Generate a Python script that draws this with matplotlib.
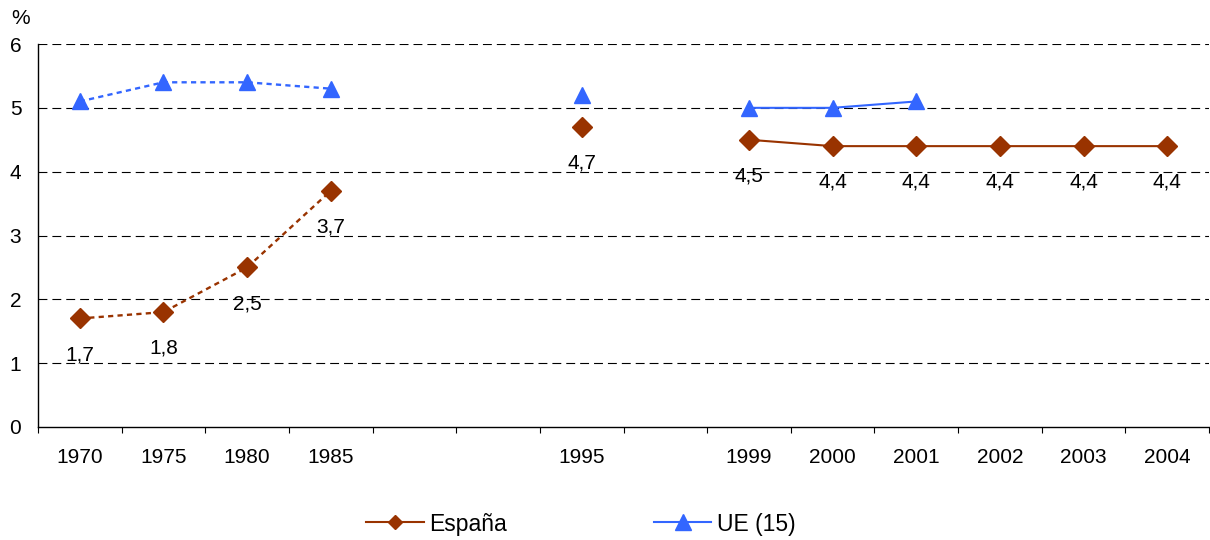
import numpy as np
import matplotlib.pyplot as plt
from matplotlib.lines import Line2D

plt.rcParams['font.family'] = ['Liberation Sans', 'DejaVu Sans']

# categories along the x axis (empty slots have no label)
years = ["1970", "1975", "1980", "1985", "", "", "1995", "", "1999",
         "2000", "2001", "2002", "2003", "2004"]
espana = [1.7, 1.8, 2.5, 3.7, np.nan, np.nan, 4.7, np.nan, 4.5,
          4.4, 4.4, 4.4, 4.4, 4.4]
ue15 = [5.1, 5.4, 5.4, 5.3, np.nan, np.nan, 5.2, np.nan, 5.0,
        5.0, 5.1, np.nan, np.nan, np.nan]

col_es = "#993300"
col_ue = "#3366FF"
fs = 15

x = np.arange(len(years))
es = np.array(espana)
ue = np.array(ue15)
early = slice(0, 4)
late = slice(8, 14)

fig = plt.figure(figsize=(12.1, 5.4), dpi=100)
ax = fig.add_axes([38 / 1210, 113 / 540, 1171 / 1210, 383 / 540])

dotted = (0, (2.2, 1.8))
# connecting lines: dotted for the early years, solid for the recent ones
ax.plot(x[early], es[early], color=col_es, lw=1.7, ls=dotted, zorder=2)
ax.plot(x[late], es[late], color=col_es, lw=1.5, zorder=2)
ax.plot(x[early], ue[early], color=col_ue, lw=1.7, ls=dotted, zorder=2)
ax.plot(x[late], ue[late], color=col_ue, lw=1.5, zorder=2)

# markers
ax.plot(x, es, ls="none", marker="D", ms=10, color=col_es, zorder=3)
ax.plot(x, ue, ls="none", marker="^", ms=12, color=col_ue, zorder=3)

# value labels for Spain
for xi, v in zip(x, es):
    if not np.isnan(v):
        ax.annotate(f"{v:.1f}".replace(".", ","), (xi, v), xytext=(0, -26),
                    textcoords="offset points", ha="center", va="center",
                    fontsize=fs)

ax.set_xlim(-0.5, len(years) - 0.5)
ax.set_ylim(0, 6)
ax.set_yticks(range(0, 7))
ax.set_xticks(x)
ax.set_xticklabels(years)
ax.set_xticks(np.arange(-0.5, len(years)), minor=True)
ax.tick_params(axis="x", which="major", length=0, pad=15, labelsize=fs)
ax.tick_params(axis="x", which="minor", length=4, width=0.8, direction="out")
ax.tick_params(axis="y", length=0, pad=12, labelsize=fs)

for y in range(1, 7):
    ax.axhline(y, color="black", lw=0.8, ls=(0, (8, 4.5)), zorder=1)

for s in ("top", "right"):
    ax.spines[s].set_visible(False)
ax.spines["left"].set_linewidth(1)
ax.spines["bottom"].set_linewidth(1)

fig.text(11 / 1210, 1 - 18 / 540, "%", fontsize=fs, va="center", ha="left")

handles = [
    Line2D([], [], color=col_es, lw=1.5, marker="D", ms=7),
    Line2D([], [], color=col_ue, lw=1.5, marker="^", ms=12),
]
fig.legend(handles, ["España", "UE (15)"], loc="center", ncol=2,
           bbox_to_anchor=(581 / 1210, 1 - 524 / 540), frameon=False,
           fontsize=16.5, handlelength=2.5, handletextpad=0.25,
           columnspacing=6.4)

fig.savefig("out.png", dpi=100)
